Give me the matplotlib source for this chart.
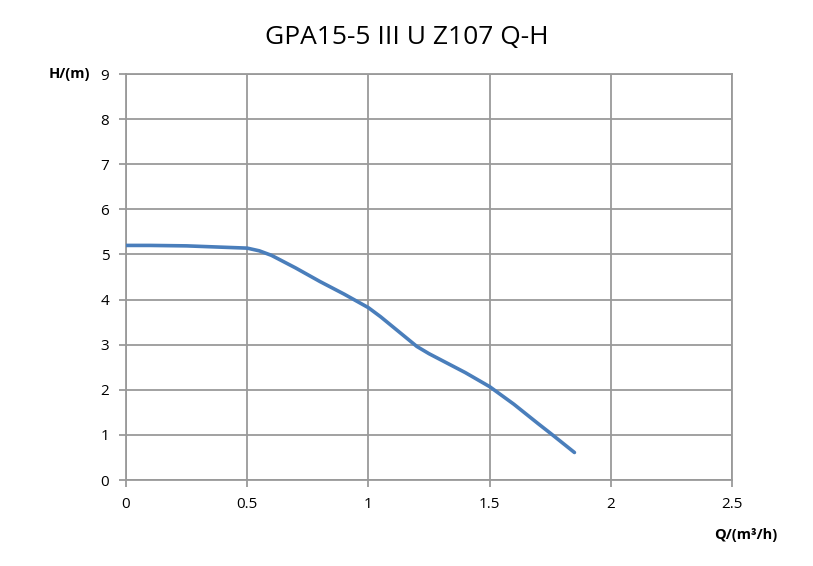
import matplotlib
matplotlib.use("Agg")
import matplotlib.pyplot as plt

plt.rcParams['font.family'] = ['Open Sans', 'DejaVu Sans']

title = "GPA15-5 III U Z107 Q-H"
q = [0.0, 0.1, 0.25, 0.3, 0.45, 0.5, 0.55, 0.6, 0.7, 0.8, 0.9, 1.0, 1.05, 1.1, 1.2, 1.25, 1.35, 1.4, 1.5, 1.6, 1.7, 1.75, 1.85]
h = [5.2, 5.2, 5.19, 5.18, 5.15, 5.14, 5.08, 4.98, 4.70, 4.40, 4.12, 3.82, 3.62, 3.40, 2.96, 2.80, 2.52, 2.38, 2.07, 1.68, 1.25, 1.04, 0.61]
xticks = [0, 0.5, 1, 1.5, 2, 2.5]
xticklabels = ["0", "0.5", "1", "1.5", "2", "2.5"]
yticks = list(range(0, 10))

fig = plt.figure(figsize=(8.13, 5.66), dpi=100)
ax = fig.add_axes([126/813, 86/566, 606/813, 406/566])
ax.plot(q, h, color='#4a7ebb', lw=2.6, solid_capstyle='round', solid_joinstyle='round', zorder=3)
ax.set_xlim(0, 2.5)
ax.set_ylim(0, 9)
ax.set_xticks(xticks)
ax.set_xticklabels(xticklabels)
ax.set_yticks(yticks)
ax.grid(True, color='#9a9a9a', lw=1.3)
for s in ax.spines.values():
    s.set_color('#9a9a9a')
    s.set_linewidth(1.3)
ax.tick_params(axis='both', direction='out', length=5, color='#9a9a9a', width=1.3,
               labelsize=11, pad=7, labelcolor='black')
ax.set_axisbelow(True)
fig.text(0.5, 1 - 38/566, title, ha='center', va='center', fontsize=19)
fig.text(69/813, 1 - 74/566, "H/(m)", ha='center', va='center', fontsize=10.5, fontweight='bold')
fig.text(746/813, 1 - 535/566, "Q/(m³/h)", ha='center', va='center', fontsize=10.5, fontweight='bold')
fig.savefig("out.png", dpi=100)
